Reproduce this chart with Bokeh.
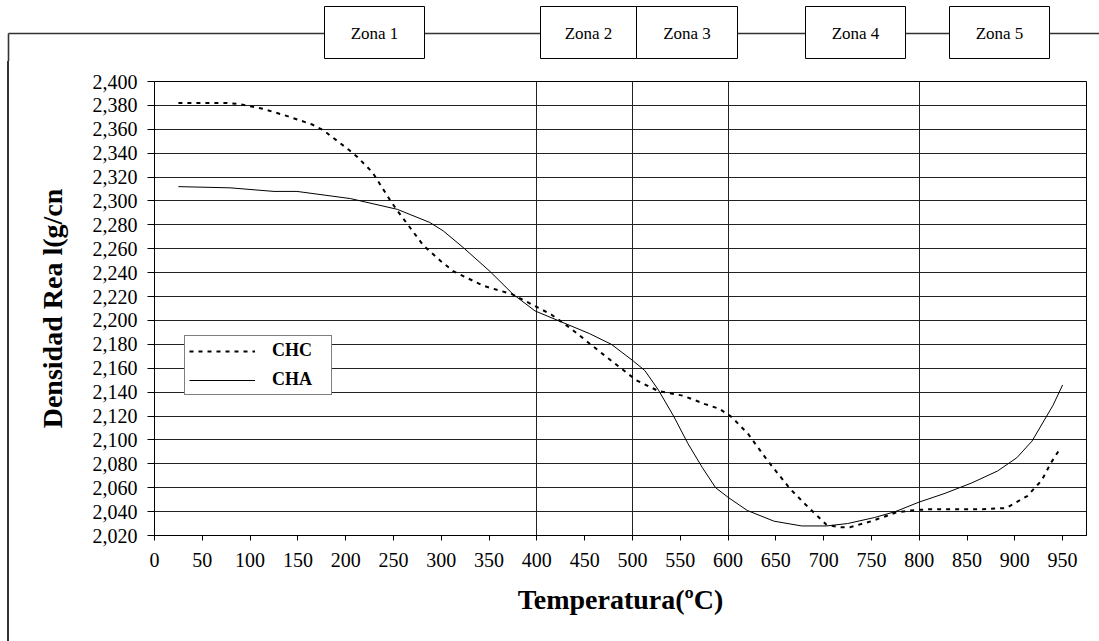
from bokeh.plotting import figure
from bokeh.layouts import column, row
from bokeh.models import (FixedTicker, CustomJSTickFormatter, Legend, LegendItem, Range1d, Div)
from bokeh.core.properties import value
from bokeh.embed import file_html
from bokeh.resources import INLINE

# ---------------- data ----------------
temp_chc = [25, 50, 75, 90, 114, 139, 165, 177, 203, 212, 228, 247, 254, 281, 299, 313,
            344, 374, 415, 436, 464, 504, 527, 553, 576, 591, 604, 621, 641, 665, 681,
            703, 716, 728, 750, 775, 790, 812, 866, 891, 913, 928, 938, 946]
dens_chc = [2.382, 2.382, 2.382, 2.381, 2.377, 2.371, 2.364, 2.359, 2.343, 2.337, 2.324,
            2.300, 2.292, 2.263, 2.250, 2.241, 2.229, 2.222, 2.205, 2.193, 2.175, 2.150,
            2.141, 2.137, 2.130, 2.126, 2.119, 2.105, 2.083, 2.059, 2.046, 2.029, 2.027,
            2.027, 2.032, 2.039, 2.041, 2.042, 2.042, 2.043, 2.053, 2.066, 2.081, 2.091]

temp_cha = [25, 79, 125, 149, 205, 254, 288, 302, 323, 351, 375, 398, 422, 455, 478, 501,
            513, 527, 543, 558, 573, 587, 600, 620, 648, 677, 703, 725, 753, 775, 800,
            826, 855, 882, 902, 918, 940, 950]
dens_cha = [2.312, 2.311, 2.308, 2.308, 2.302, 2.293, 2.282, 2.275, 2.261, 2.241, 2.222,
            2.208, 2.200, 2.189, 2.180, 2.166, 2.158, 2.142, 2.120, 2.097, 2.077, 2.060,
            2.052, 2.041, 2.032, 2.028, 2.028, 2.030, 2.035, 2.040, 2.048, 2.055, 2.064,
            2.074, 2.085, 2.099, 2.129, 2.146]

x_ticks = [0, 50, 100, 150, 200, 250, 300, 350, 400, 450, 500, 550, 600, 650, 700,
           750, 800, 850, 900, 950]
y_ticks = [2.020, 2.040, 2.060, 2.080, 2.100, 2.120, 2.140, 2.160, 2.180, 2.200, 2.220,
           2.240, 2.260, 2.280, 2.300, 2.320, 2.340, 2.360, 2.380, 2.400]
zone_bounds = [400, 500, 600, 800]
zone_names = ["Zona 1", "Zona 2", "Zona 3", "Zona 4", "Zona 5"]
series_names = ["CHC", "CHA"]

# ---------------- layout constants (pixels) ----------------
W, H = 1099, 641
TOP_H = 61          # height of the zone strip
STRIP_W = 14        # width of the left strip carrying the outer frame line
FRAME_X = 8         # outer frame line x
FRAME_Y = 33        # outer frame line y
SERIF = "Liberation Serif"
zone_px = [(324, 424), (540, 636), (636, 737), (805, 905), (949, 1049)]
BOX_T, BOX_B = 6, 58


def bare(width, height, xr, yr):
    f = figure(width=width, height=height, x_range=xr, y_range=yr,
               output_backend="svg", toolbar_location=None,
               x_axis_type=None, y_axis_type=None, min_border=0)
    f.outline_line_color = None
    f.background_fill_color = "white"
    f.border_fill_color = "white"
    f.xgrid.visible = False
    f.ygrid.visible = False
    return f


# ---- top strip: outer frame line + zone boxes ----
top = bare(W, TOP_H, Range1d(0, W), Range1d(TOP_H, 0))
top.segment(x0=[FRAME_X, FRAME_X], y0=[FRAME_Y, FRAME_Y], x1=[W + 5, FRAME_X],
            y1=[FRAME_Y, TOP_H + 2], line_color="#333333", line_width=1.6)
top.quad(left=[z[0] for z in zone_px], right=[z[1] for z in zone_px],
         top=[BOX_T] * len(zone_px), bottom=[BOX_B] * len(zone_px),
         fill_color="white", line_color="black", line_width=1)
top.text(x=[(z[0] + z[1]) / 2 for z in zone_px], y=[(BOX_T + BOX_B) / 2 + 1] * len(zone_px),
         text=zone_names, text_align="center", text_baseline="middle",
         text_font=value(SERIF), text_font_size="17px", text_color="black")

# ---- left strip: outer frame line (plain block, no plot frame alignment) ----
strip = Div(text="", width=STRIP_W, height=H - TOP_H, margin=0,
            styles={"background": "linear-gradient(to right, white 7px, #333333 7px, "
                                  "#333333 9px, white 9px)"})

# ---- main chart ----
FL, FR, FT, FB = 154, 1086, 81, 535
p = figure(width=W - STRIP_W, height=H - TOP_H,
           x_range=Range1d(0, 975), y_range=Range1d(2.02, 2.40),
           output_backend="svg", toolbar_location=None,
           min_border_left=FL - STRIP_W, min_border_right=W - FR,
           min_border_top=FT - TOP_H, min_border_bottom=H - FB)
p.background_fill_color = "white"
p.border_fill_color = "white"
p.outline_line_color = "black"
p.outline_line_width = 1

r_chc = p.line(temp_chc, dens_chc, line_color="black", line_width=2, line_dash="4 5")
r_cha = p.line(temp_cha, dens_cha, line_color="black", line_width=1)

p.xaxis.ticker = FixedTicker(ticks=x_ticks)
p.yaxis.ticker = FixedTicker(ticks=y_ticks)
p.yaxis.formatter = CustomJSTickFormatter(code="return tick.toFixed(3).replace('.', ',');")
for ax in (p.xaxis[0], p.yaxis[0]):
    ax.axis_line_color = "black"
    ax.major_tick_line_color = "black"
    ax.minor_tick_line_color = None
    ax.major_tick_in = 0
    ax.major_label_text_font = SERIF
    ax.major_label_text_font_size = "20px"
    ax.major_label_text_color = "black"
    ax.axis_label_text_font = SERIF
    ax.axis_label_text_font_style = "bold"
    ax.axis_label_text_font_size = "28px"
    ax.axis_label_text_color = "black"
p.xaxis.major_tick_out = 5
p.yaxis.major_tick_out = 7
p.xaxis.axis_label = "Temperatura(ºC)"
p.yaxis.axis_label = "Densidad Rea l(g/cn"
p.xaxis.major_label_standoff = 12
p.yaxis.major_label_standoff = 10
p.xaxis.axis_label_standoff = 14
p.yaxis.axis_label_standoff = 22

p.ygrid.ticker = FixedTicker(ticks=y_ticks)
p.ygrid.grid_line_color = "#222222"
p.ygrid.grid_line_width = 1
p.xgrid.ticker = FixedTicker(ticks=zone_bounds)
p.xgrid.grid_line_color = "#222222"
p.xgrid.grid_line_width = 1

legend = Legend(items=[LegendItem(label=series_names[0], renderers=[r_chc]),
                       LegendItem(label=series_names[1], renderers=[r_cha])],
                location=(30, 140), orientation="vertical",
                glyph_width=66, glyph_height=20, label_height=20, label_width=55,
                label_standoff=17, padding=4, spacing=8, margin=0,
                border_line_color="black", border_line_width=1,
                background_fill_color="white", background_fill_alpha=1,
                label_text_font=SERIF, label_text_font_style="bold",
                label_text_font_size="18px", label_text_color="black")
p.add_layout(legend)

layout = column(top, row(strip, p, spacing=0), spacing=0)
open("out.html", "w").write(file_html(layout, INLINE))
